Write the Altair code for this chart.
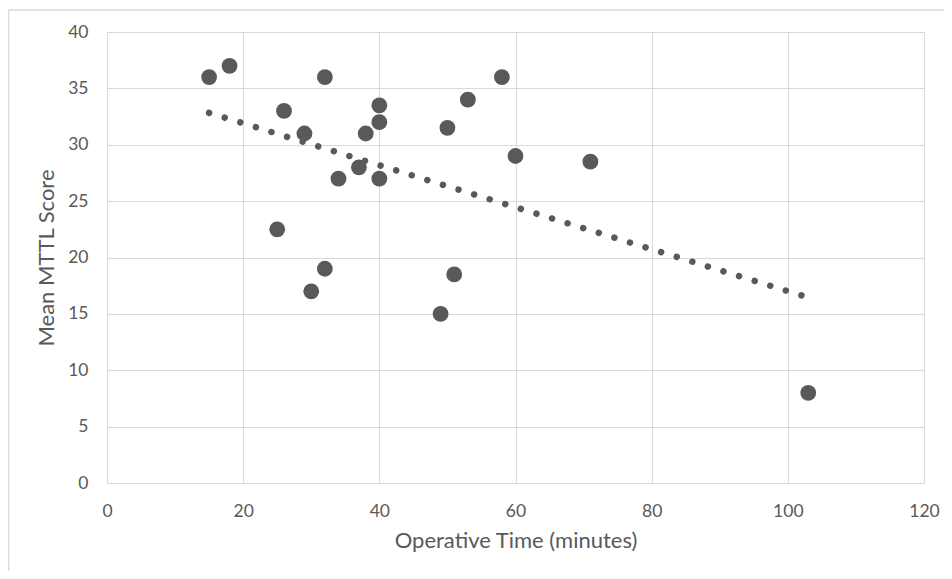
import altair as alt
import pandas as pd

# Data
operative_time = [15, 18, 25, 26, 29, 30, 32, 32, 34, 37, 38, 40, 40, 40, 49, 50, 51, 53, 58, 60, 71, 103]
mttl_score = [36, 37, 22.5, 33, 31, 17, 36, 19, 27, 28, 31, 33.5, 32, 27, 15, 31.5, 18.5, 34, 36, 29, 28.5, 8]
x_ticks = [0, 20, 40, 60, 80, 100, 120]
y_ticks = [0, 5, 10, 15, 20, 25, 30, 35, 40]

df = pd.DataFrame({"x": operative_time, "y": mttl_score})

FONT = "Lato"
GREY = "#595959"
W, H = 817, 451

x_enc = alt.X("x:Q", scale=alt.Scale(domain=[0, 120], nice=False),
              axis=alt.Axis(values=x_ticks, title="Operative Time (minutes)",
                            grid=True, ticks=False, domain=False, labelFlush=False,
                            labelPadding=19, titlePadding=11))
y_enc = alt.Y("y:Q", scale=alt.Scale(domain=[0, 40], nice=False),
              axis=alt.Axis(values=y_ticks, title="Mean MTTL Score",
                            grid=True, ticks=False, domain=False, labelFlush=False,
                            labelPadding=19, titlePadding=9))

base = alt.Chart(df)

points = base.mark_circle(size=250, color=GREY, opacity=1).encode(x=x_enc, y=y_enc)

trend = base.transform_regression("x", "y").mark_line(
    color=GREY, strokeWidth=6.5, strokeDash=[0.01, 16.3], strokeCap="round"
).encode(x="x:Q", y="y:Q")

border_df = pd.DataFrame({"k": [0]})
left_border = alt.Chart(border_df).mark_rule(color="#d9d9d9", strokeWidth=1.5).encode(
    x=alt.value(-98.5), y=alt.value(-22), y2=alt.value(H + 90)
)
top_border = alt.Chart(border_df).mark_rule(color="#d9d9d9", strokeWidth=1.5).encode(
    x=alt.value(-98.5), x2=alt.value(W + 40), y=alt.value(-22)
)

chart = alt.layer(left_border, top_border, trend, points).properties(
    width=W, height=H,
    autosize=alt.AutoSizeParams(type="none"),
    padding={"left": 99, "top": 24, "right": 20, "bottom": 88},
).configure_axis(
    gridColor="#d9d9d9", gridWidth=1,
    labelFont=FONT, labelFontSize=17.5, labelColor=GREY,
    titleFont=FONT, titleFontSize=22, titleColor=GREY, titleFontWeight="normal",
).configure_view(stroke="#d9d9d9", strokeWidth=1)

chart.save("out.html", embed_options={"renderer": "svg", "actions": False})
